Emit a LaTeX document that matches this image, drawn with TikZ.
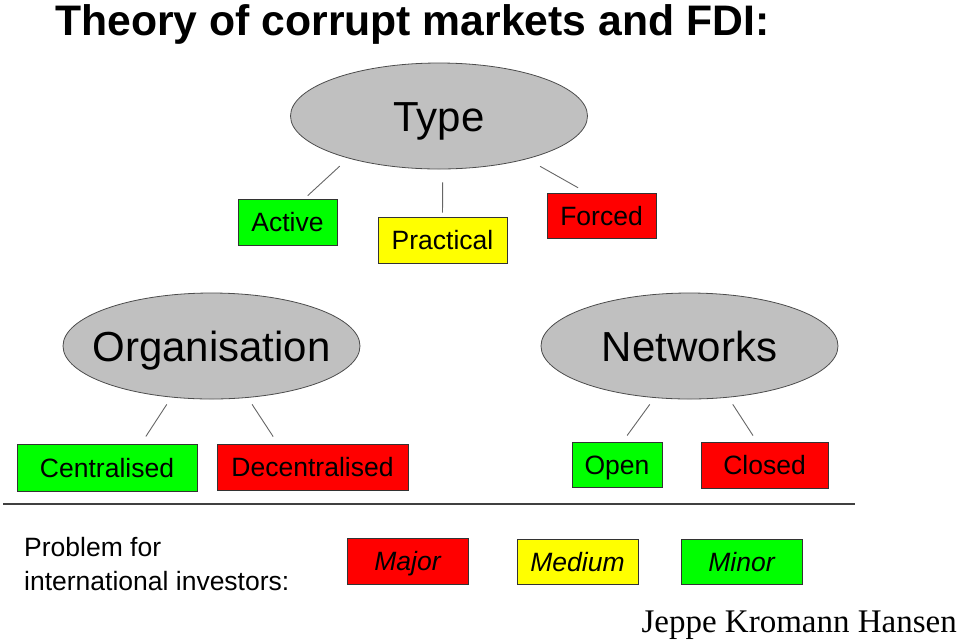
\documentclass[tikz,border=0pt]{standalone}
\usepackage{fontspec}
\setmainfont{Liberation Serif}
\setsansfont{Liberation Sans}
\usepackage{xcolor}
\definecolor{fdired}{HTML}{FF0000}
\definecolor{fdiyellow}{HTML}{FFFF00}
\definecolor{fdigreen}{HTML}{00FF00}
\definecolor{fdigrey}{HTML}{C0C0C0}
\usetikzlibrary{shapes.geometric}

\begin{document}
\begin{tikzpicture}[
  x=1pt, y=-1pt,
  every node/.style={font=\sffamily},
  topic/.style={ellipse, draw=black!70, fill=fdigrey, line width=0.8pt, inner xsep=-20pt, inner ysep=0pt, minimum width=297pt, minimum height=106pt, text height=30pt, text depth=0pt, font=\sffamily\fontsize{42}{50}\selectfont},
  level/.style={rectangle, draw=black!80, line width=0.9pt, inner sep=0pt, minimum height=46pt, text height=19pt, text depth=0pt, font=\sffamily\fontsize{26.5}{32}\selectfont},
  redbox/.style={level, fill=fdired},
  yellowbox/.style={level, fill=fdiyellow},
  greenbox/.style={level, fill=fdigreen},
  keybox/.style={minimum width=121pt, font=\sffamily\itshape\fontsize{26.5}{32}\selectfont},
  link/.style={draw=black!60, line width=0.9pt},
]
  \useasboundingbox (0,0) rectangle (960,641);

  % title
  \node[anchor=base west, inner sep=0pt, font=\sffamily\bfseries\fontsize{42.7}{50}\selectfont] (title) at (55,35) {Theory of corrupt markets and FDI:};

  % type of corruption
  \node[topic] (type) at (439,116) {Type};
  \node[greenbox, minimum width=99pt] (active) at (287.5,222) {Active};
  \node[yellowbox, minimum width=129pt] (practical) at (442.5,240) {Practical};
  \node[redbox, minimum width=109pt, minimum height=45pt] (forced) at (601.5,215.5) {Forced};
  \draw[link, shorten <=11.6pt, shorten >=4.4pt] (type.205) -- (active.54.8);
  \draw[link, shorten <=13pt, shorten >=4pt] (type.274) -- (practical.north);
  \draw[link, shorten <=14.9pt, shorten >=9.8pt] (type.334.6) -- (forced.123.9);

  % organisation
  \node[topic] (org) at (211.5,346) {Organisation};
  \node[greenbox, minimum width=180pt, minimum height=47pt] (central) at (107,467.5) {Centralised};
  \node[redbox, minimum width=191pt] (decentral) at (312.5,467) {Decentralised};
  \draw[link, shorten <=8.3pt, shorten >=8.5pt] (org.232.9) -- (central.35.4);
  \draw[link, shorten <=7.8pt, shorten >=8.3pt] (org.305.2) -- (decentral.146.7);

  % networks
  \node[topic] (net) at (689.5,346) {Networks};
  \node[greenbox, minimum width=90pt, minimum height=45pt] (open) at (617,464.5) {Open};
  \node[redbox, minimum width=127pt] (closed) at (764.5,465) {Closed};
  \draw[link, shorten <=8pt, shorten >=7.5pt] (net.236.9) -- (open.76.3);
  \draw[link, shorten <=8.1pt, shorten >=7.1pt] (net.307.5) -- (closed.108.6);

  % key
  \draw[draw=black!75, line width=1.2pt] (3,504) -- (855,504);
  \node[anchor=base west, inner sep=0pt, align=left, font=\sffamily\fontsize{26.5}{34}\selectfont] (problem) at (24,590) {Problem for\\international investors:};
  \node[redbox, keybox] (major) at (407.5,561) {Major};
  \node[yellowbox, keybox, minimum height=45pt] (medium) at (577.5,561.5) {Medium};
  \node[greenbox, keybox, minimum height=45pt] (minor) at (741.5,561.5) {Minor};

  \node[anchor=base east, inner sep=0pt, font=\rmfamily\fontsize{33}{40}\selectfont] (author) at (957,632) {Jeppe Kromann Hansen};
\end{tikzpicture}
\end{document}
